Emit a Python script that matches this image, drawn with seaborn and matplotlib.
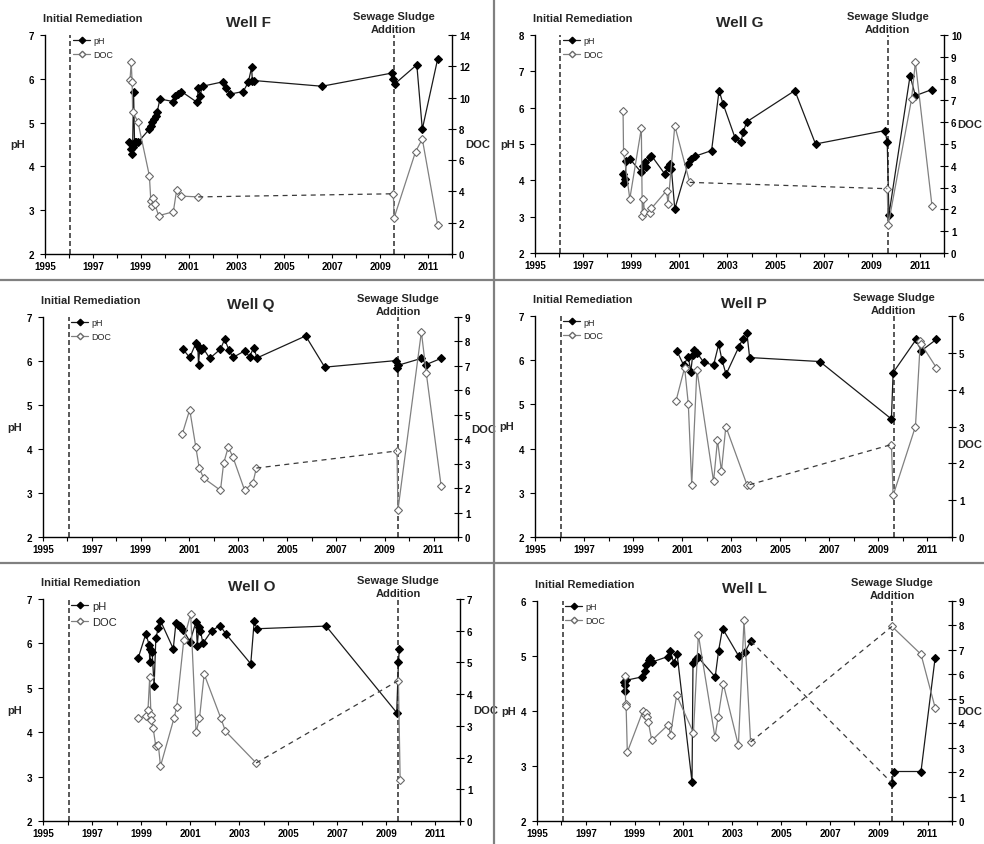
import matplotlib
matplotlib.use("Agg")
import matplotlib.pyplot as plt
from matplotlib.lines import Line2D
import numpy as np
import seaborn as sns

sns.set_theme(style="ticks")
plt.rcParams['font.family'] = ['Liberation Sans', 'DejaVu Sans']

# ---- data (year, pH / DOC) ----
F_PH_YEAR = [1998.52, 1998.58, 1998.62, 1998.66, 1998.70, 1998.74, 1998.80, 1998.88,
             1999.36, 1999.41, 1999.49, 1999.55, 1999.63, 1999.69, 1999.80,
             2000.36, 2000.43, 2000.57, 2000.70, 2001.36, 2001.40, 2001.47, 2001.58,
             2002.42, 2002.58, 2002.72, 2003.28, 2003.49, 2003.63, 2003.66, 2003.74,
             2006.57, 2009.48, 2009.55, 2009.60, 2010.53, 2010.76, 2011.40]
F_PH = [4.55, 4.40, 4.28, 4.45, 5.70, 4.55, 4.55, 4.55,
        4.85, 4.93, 5.01, 5.08, 5.16, 5.25, 5.54,
        5.48, 5.61, 5.65, 5.71, 5.46, 5.80, 5.61, 5.83,
        5.93, 5.78, 5.65, 5.71, 5.92, 6.26, 5.96, 5.96,
        5.83, 6.13, 6.00, 5.88, 6.32, 4.85, 6.45]
F_DOC_YEAR = [1998.55, 1998.60, 1998.64, 1998.66, 1998.88, 1999.36, 1999.42, 1999.47,
              1999.52, 1999.58, 1999.75, 2000.36, 2000.50, 2000.70, 2001.40,
              2009.55, 2009.58, 2010.48, 2010.76, 2011.40]
F_DOC = [11.1, 12.25, 11.0, 9.1, 8.45, 5.0, 3.4, 3.1,
         3.6, 3.2, 2.45, 2.7, 4.1, 3.7, 3.65,
         3.85, 2.3, 6.55, 7.35, 1.85]

G_PH_YEAR = [1998.66, 1998.70, 1998.73, 1998.80, 1998.94, 1999.42, 1999.49, 1999.56,
             1999.63, 1999.77, 1999.84, 2000.40, 2000.53, 2000.60, 2000.67, 2000.81,
             2001.36, 2001.50, 2001.64, 2002.34, 2002.65, 2002.82, 2003.32, 2003.56,
             2003.66, 2003.80, 2005.80, 2006.66, 2009.55, 2009.64, 2009.71,
             2010.59, 2010.81, 2011.50]
G_PH = [4.17, 3.94, 4.04, 4.54, 4.59, 4.22, 4.40, 4.50,
        4.36, 4.63, 4.68, 4.17, 4.36, 4.45, 4.31, 3.21,
        4.45, 4.59, 4.66, 4.82, 6.47, 6.10, 5.16, 5.06,
        5.34, 5.61, 6.47, 5.00, 5.37, 5.05, 3.05,
        6.88, 6.33, 6.50]
G_DOC_YEAR = [1998.66, 1998.68, 1998.94, 1999.42, 1999.46, 1999.50, 1999.55, 1999.77,
              1999.84, 2000.47, 2000.53, 2000.81, 2001.43, 2009.64, 2009.68,
              2010.65, 2010.81, 2011.50]
G_DOC = [6.53, 4.65, 2.48, 5.72, 1.70, 2.50, 1.90, 1.85,
         2.05, 2.86, 2.25, 5.84, 3.24, 2.95, 1.28,
         7.05, 8.75, 2.17]

Q_PH_YEAR = [2000.73, 2001.01, 2001.26, 2001.34, 2001.37, 2001.42, 2001.49, 2001.55,
             2001.83, 2002.27, 2002.44, 2002.62, 2002.78, 2003.26, 2003.46, 2003.63,
             2003.77, 2005.76, 2006.54, 2009.47, 2009.51, 2009.53, 2010.50, 2010.70,
             2011.31]
Q_PH = [6.27, 6.08, 6.40, 6.35, 5.92, 6.28, 6.25, 6.30,
        6.06, 6.27, 6.49, 6.25, 6.08, 6.23, 6.10, 6.30,
        6.07, 6.57, 5.86, 6.01, 5.85, 5.90, 6.06, 5.92,
        6.06]
Q_DOC_YEAR = [2000.71, 2001.01, 2001.26, 2001.40, 2001.58, 2002.27, 2002.40, 2002.59,
              2002.78, 2003.26, 2003.60, 2003.74, 2009.50, 2009.54, 2010.50, 2010.70,
              2011.31]
Q_DOC = [4.23, 5.21, 3.68, 2.82, 2.41, 1.91, 3.02, 3.68,
         3.27, 1.91, 2.22, 2.82, 3.52, 1.11, 8.39, 6.71,
         2.08]

P_PH_YEAR = [2000.78, 2001.06, 2001.25, 2001.35, 2001.43, 2001.50, 2001.60, 2001.88,
             2002.28, 2002.49, 2002.62, 2002.79, 2003.30, 2003.46, 2003.64, 2003.75,
             2006.61, 2009.53, 2009.60, 2010.54, 2010.74, 2011.36]
P_PH = [6.21, 5.89, 6.08, 5.74, 6.11, 6.23, 6.17, 5.95,
        5.89, 6.36, 6.01, 5.68, 6.29, 6.47, 6.61, 6.06,
        5.97, 4.67, 5.72, 6.47, 6.21, 6.47]
P_DOC_YEAR = [2000.75, 2001.10, 2001.25, 2001.39, 2001.60, 2002.28, 2002.44, 2002.60,
              2002.78, 2003.64, 2003.75, 2009.53, 2009.60, 2010.51, 2010.71, 2010.75,
              2011.36]
P_DOC = [3.70, 4.60, 3.61, 1.42, 4.54, 1.51, 2.63, 1.79,
         3.00, 1.42, 1.42, 2.51, 1.13, 3.00, 5.32, 5.23,
         4.60]

O_PH_YEAR = [1998.88, 1999.19, 1999.33, 1999.35, 1999.38, 1999.45, 1999.53, 1999.60,
             1999.70, 1999.79, 2000.31, 2000.42, 2000.52, 2000.58, 2000.71, 2000.99,
             2001.24, 2001.29, 2001.35, 2001.42, 2001.52, 2001.88, 2002.22, 2002.46,
             2003.47, 2003.61, 2003.72, 2006.54, 2009.42, 2009.49, 2009.53]
O_PH = [5.67, 6.21, 5.97, 5.59, 5.88, 5.80, 5.04, 6.12,
        6.34, 6.51, 5.88, 6.46, 6.42, 6.39, 6.31, 6.04,
        6.49, 5.95, 6.36, 6.28, 6.00, 6.29, 6.40, 6.21,
        5.54, 6.50, 6.33, 6.39, 4.44, 5.58, 5.88]
O_DOC_YEAR = [1998.88, 1999.19, 1999.28, 1999.35, 1999.40, 1999.42, 1999.49, 1999.60,
              1999.70, 1999.79, 2000.34, 2000.45, 2000.74, 2001.02, 2001.24, 2001.38,
              2001.57, 2002.25, 2002.44, 2003.69, 2009.49, 2009.56]
O_DOC = [3.24, 3.31, 3.51, 4.53, 3.33, 3.17, 2.93, 2.35,
         2.41, 1.73, 3.24, 3.59, 5.71, 6.53, 2.80, 3.24,
         4.63, 3.24, 2.83, 1.83, 4.43, 1.30]

L_PH_YEAR = [1998.58, 1998.60, 1998.62, 1998.66, 1999.30, 1999.41, 1999.48, 1999.57,
             1999.64, 1999.71, 2000.36, 2000.46, 2000.60, 2000.74, 2001.35, 2001.39,
             2001.52, 2001.59, 2002.30, 2002.44, 2002.60, 2003.26, 2003.51, 2003.76,
             2009.54, 2009.61, 2010.73, 2011.31]
L_PH = [4.53, 4.36, 4.48, 4.56, 4.62, 4.73, 4.83, 4.92,
        4.97, 4.89, 4.99, 5.10, 4.87, 5.03, 2.71, 4.88,
        4.95, 4.98, 4.62, 5.10, 5.50, 5.00, 5.07, 5.27,
        2.69, 2.90, 2.90, 4.97]
L_DOC_YEAR = [1998.61, 1998.63, 1998.65, 1998.70, 1999.33, 1999.42, 1999.46, 1999.51,
              1999.56, 1999.70, 2000.38, 2000.47, 2000.72, 2001.41, 2001.61, 2002.29,
              2002.42, 2002.63, 2003.25, 2003.48, 2003.75, 2009.54, 2010.73, 2011.31]
L_DOC = [5.93, 4.80, 4.70, 2.82, 4.48, 4.35, 4.43, 4.25,
         4.05, 3.30, 3.94, 3.53, 5.14, 3.61, 7.62, 3.43,
         4.25, 5.62, 3.09, 8.21, 3.23, 7.96, 6.82, 4.63]

WELL_NAMES = ["F", "G", "Q", "P", "O", "L"]
PH_LIMITS = [(2, 7), (2, 8), (2, 7), (2, 7), (2, 7), (2, 6)]
DOC_LIMITS = [(0, 14), (0, 10), (0, 9), (0, 6), (0, 7), (0, 9)]
DOC_STEP = [2, 1, 1, 1, 1, 1]
REMEDIATION_YEAR = 1996.05
SLUDGE_YEAR = [2009.57, 2009.66, 2009.54, 2009.63, 2009.47, 2009.55]

SERIES = {
    "F": (F_PH_YEAR, F_PH, F_DOC_YEAR, F_DOC),
    "G": (G_PH_YEAR, G_PH, G_DOC_YEAR, G_DOC),
    "Q": (Q_PH_YEAR, Q_PH, Q_DOC_YEAR, Q_DOC),
    "P": (P_PH_YEAR, P_PH, P_DOC_YEAR, P_DOC),
    "O": (O_PH_YEAR, O_PH, O_DOC_YEAR, O_DOC),
    "L": (L_PH_YEAR, L_PH, L_DOC_YEAR, L_DOC),
}

# ---- layout (pixel boxes of each plot area: left, top, right, bottom) ----
W, H = 984, 845
BOXES = [(45, 36, 452, 255), (535, 36, 944, 254),
         (43, 318, 458, 538), (535, 317, 952, 538),
         (43, 600, 460, 822), (537, 602, 952, 822)]
DOC_LABEL_Y = [0.5, 0.59, 0.49, 0.42, 0.5, 0.5]
LEGEND_SIZE = [6.5, 6.5, 6.5, 6.5, 8, 6.5]

PH_LINE = "#1a1a1a"
DOC_LINE = "#808080"
PX = 72 / 100  # points per pixel


def draw_series(ax, years, vals, color, face, edge, ms):
    years = np.asarray(years)
    vals = np.asarray(vals)
    gaps = np.where(np.diff(years) > 4)[0]
    starts = [0] + list(gaps + 1)
    ends = list(gaps + 1) + [len(years)]
    for s, e in zip(starts, ends):
        sns.lineplot(x=years[s:e], y=vals[s:e], ax=ax, color=color, lw=0.9,
                     marker="D", markersize=ms, markerfacecolor=face,
                     markeredgecolor=edge, markeredgewidth=0.8,
                     sort=False, estimator=None)
    # missing years are bridged with a dashed line
    for g in gaps:
        sns.lineplot(x=years[g:g + 2], y=vals[g:g + 2], ax=ax, color="#3a3a3a",
                     lw=0.9, linestyle=(0, (4, 3.5)), sort=False, estimator=None)


fig = plt.figure(figsize=(W / 100, H / 100), dpi=100)

for i, well in enumerate(WELL_NAMES):
    l, t, r, b = BOXES[i]
    ax = fig.add_axes([l / W, 1 - b / H, (r - l) / W, (b - t) / H])
    ax2 = ax.twinx()
    ph_year, ph, doc_year, doc = SERIES[well]

    draw_series(ax, ph_year, ph, PH_LINE, "black", "black", 3.9)
    draw_series(ax2, doc_year, doc, DOC_LINE, "white", "#6a6a6a", 3.9)

    for x in (REMEDIATION_YEAR, SLUDGE_YEAR[i]):
        ax.axvline(x, color="#3c3c3c", lw=1.2, linestyle=(0, (3, 1.8)), zorder=1)

    ax.set_xlim(1995, 2012)
    ax.set_ylim(*PH_LIMITS[i])
    ax2.set_ylim(*DOC_LIMITS[i])
    years = list(range(1995, 2013))
    ax.set_xticks(years)
    ax.set_xticklabels([str(y) if y % 2 == 1 else "" for y in years])
    ax.set_yticks(range(PH_LIMITS[i][0], PH_LIMITS[i][1] + 1))
    ax2.set_yticks(range(DOC_LIMITS[i][0], DOC_LIMITS[i][1] + 1, DOC_STEP[i]))
    ax.set_xlabel("")
    ax.set_ylabel("")
    ax2.set_ylabel("")

    ax.spines["top"].set_visible(False)
    ax.spines["right"].set_visible(False)
    ax2.spines["top"].set_visible(False)
    ax2.spines["left"].set_visible(False)
    ax2.spines["bottom"].set_visible(False)
    for sp in ("left", "bottom"):
        ax.spines[sp].set_color("black")
        ax.spines[sp].set_linewidth(1.0)
    ax2.spines["right"].set_color("black")
    ax2.spines["right"].set_linewidth(1.0)

    ax.tick_params(axis="x", direction="out", length=4 * PX, width=0.8, pad=3 * PX,
                   labelsize=7, colors="black")
    ax.tick_params(axis="y", direction="out", length=5 * PX, width=0.8, pad=6 * PX,
                   labelsize=7, colors="black")
    ax2.tick_params(axis="y", direction="inout", length=8 * PX, width=0.8, pad=3 * PX,
                    labelsize=7, colors="black")
    for lab in ax.get_xticklabels() + ax.get_yticklabels() + ax2.get_yticklabels():
        lab.set_fontweight("bold")

    ax.text(-0.068, 0.5, "pH", transform=ax.transAxes, ha="center", va="center",
            fontsize=8, fontweight="bold")
    if l < W / 2:
        ax2.text(1.062, DOC_LABEL_Y[i], "DOC", transform=ax.transAxes, ha="center",
                 va="center", fontsize=8, fontweight="bold")
    else:
        # right column: keep the label inside the figure edge
        fig.text(982 / W, 1 - (b - DOC_LABEL_Y[i] * (b - t)) / H, "DOC",
                 ha="right", va="center", fontsize=8, fontweight="bold")

    ax.set_title(f"Well {well}", fontsize=11, fontweight="bold", pad=9 * PX)
    ax.annotate("Initial Remediation", xy=(0, 1), xycoords="axes fraction",
                xytext=(-2 * PX, 17 * PX), textcoords="offset points",
                ha="left", va="center", fontsize=8, fontweight="bold")
    ax.annotate("Sewage Sludge\nAddition", xy=(SLUDGE_YEAR[i], 1),
                xycoords=("data", "axes fraction"), xytext=(0, 12.5 * PX),
                textcoords="offset points", ha="center", va="center",
                fontsize=8, fontweight="bold", linespacing=1.35)

    handles = [Line2D([], [], color=PH_LINE, lw=0.9, marker="D", markersize=3.3,
                      markerfacecolor="black", markeredgecolor="black"),
               Line2D([], [], color=DOC_LINE, lw=0.9, marker="D", markersize=3.3,
                      markerfacecolor="white", markeredgecolor="#6a6a6a")]
    fs = LEGEND_SIZE[i]
    leg = ax2.legend(handles, ["pH", "DOC"], loc="upper left",
                     bbox_to_anchor=(28 / (r - l), 1 - 1.5 / (b - t)),
                     frameon=False, fontsize=fs, borderaxespad=0, borderpad=0,
                     handlelength=17 / (fs / PX), handletextpad=0.35,
                     labelspacing=0.55)

# panel separators
for x in (494,):
    fig.add_artist(Line2D([x / W, x / W], [0, 1], color="#808080", lw=1.6))
for y in (281, 564):
    fig.add_artist(Line2D([0, 1], [1 - y / H, 1 - y / H], color="#808080", lw=1.6))

fig.savefig("out.png", dpi=100, facecolor="white")
